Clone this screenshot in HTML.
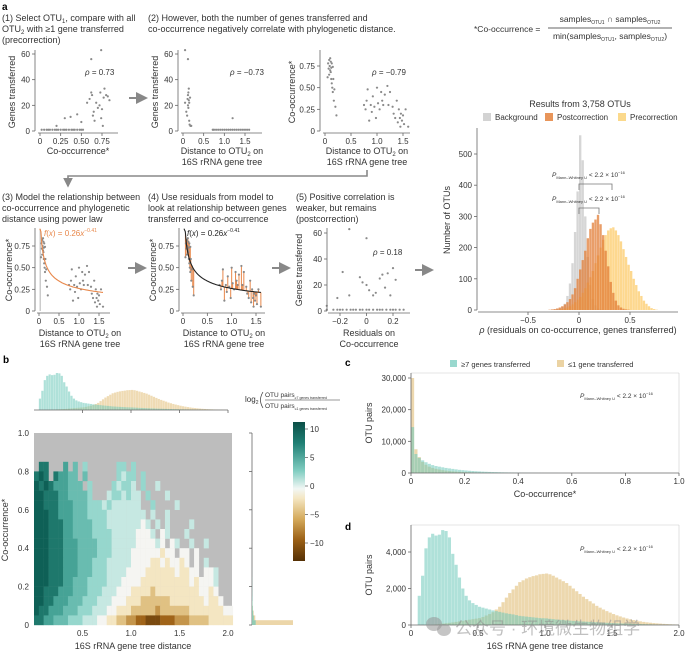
<!DOCTYPE html>
<html><head><meta charset="utf-8"><style>
html,body{margin:0;padding:0;background:#fff;}
svg{display:block;font-family:"Liberation Sans","Noto Sans CJK SC",sans-serif;}
</style></head><body>
<svg id="fig" width="685" height="653" viewBox="0 0 685 653" xmlns="http://www.w3.org/2000/svg">
<defs>
<linearGradient id="cbar" x1="0" y1="0" x2="0" y2="1">
<stop offset="0" stop-color="#0b4f47"/><stop offset="0.15" stop-color="#1f7f74"/><stop offset="0.35" stop-color="#80cdc1"/><stop offset="0.48" stop-color="#f2f7f5"/><stop offset="0.55" stop-color="#f4e6c2"/><stop offset="0.7" stop-color="#d4a95a"/><stop offset="0.85" stop-color="#9a5f15"/><stop offset="1" stop-color="#543005"/>
</linearGradient>
<marker id="arr" markerWidth="6" markerHeight="6" refX="5" refY="3" orient="auto"><path d="M0,0 L6,3 L0,6 z" fill="#888"/></marker>
</defs>
</svg>
<script>
// ---------- DATA ----------
const p1x=[0.02,0.05,0.08,0.1,0.12,0.15,0.18,0.2,0.22,0.25,0.28,0.3,0.32,0.35,0.38,0.4,0.42,0.45,0.48,0.5,0.52,0.2,0.3,0.37,0.45,0.5,0.57,0.6,0.62,0.63,0.64,0.65,0.66,0.68,0.7,0.72,0.73,0.74,0.75,0.76,0.77,0.78,0.8,0.82,0.84,0.62,0.74];
const p1y=[1,1,1,1,1,1,1,1,1,1,1,1,1,1,1,1,1,1,1,1,1,4,10,11,13,7,22,25,30,28,12,15,8,22,18,20,30,10,17,4,26,33,28,27,24,56,63];
const p2x=[0.05,0.08,0.1,0.11,0.12,0.12,0.13,0.13,0.14,0.14,0.15,0.15,0.16,0.17,0.18,0.2,0.05,0.12,0.72,0.75,0.8,0.85,0.9,0.95,1.0,1.05,1.1,1.15,1.2,1.25,1.3,1.35,1.4,1.45,1.5,1.55,1.6,1.2];
const p2y=[22,15,12,25,20,28,18,30,24,33,8,22,5,26,4,4,63,56,1,1,1,1,1,1,1,1,1,1,1,1,1,1,1,1,1,1,1,10];
const distX=[0.05,0.06,0.07,0.08,0.08,0.09,0.1,0.1,0.11,0.11,0.12,0.12,0.13,0.13,0.14,0.15,0.15,0.16,0.17,0.18,0.2,0.22,0.75,0.78,0.8,0.82,0.85,0.88,0.9,0.92,0.95,0.98,1.0,1.02,1.05,1.08,1.1,1.12,1.15,1.2,1.22,1.25,1.3,1.32,1.35,1.38,1.4,1.42,1.44,1.45,1.46,1.48,1.5,1.52,1.55,1.6];
const coocY=[0.62,0.78,0.72,0.82,0.65,0.75,0.7,0.84,0.68,0.8,0.6,0.73,0.55,0.78,0.5,0.45,0.74,0.6,0.35,0.48,0.28,0.18,0.3,0.25,0.35,0.48,0.12,0.3,0.22,0.4,0.28,0.15,0.5,0.32,0.25,0.45,0.35,0.3,0.42,0.52,0.3,0.45,0.28,0.2,0.15,0.35,0.1,0.25,0.15,0.05,0.2,0.12,0.18,0.08,0.25,0.05];
const p6x=[-0.3,-0.25,-0.22,-0.2,-0.18,-0.15,-0.12,-0.1,-0.08,-0.05,-0.03,0,0.02,0.05,0.08,0.1,0.12,0.15,0.18,0.2,0.22,0.25,0.28,-0.3,-0.22,-0.18,-0.13,-0.05,-0.03,0,0.02,0.05,0.07,0.1,0.12,0.14,0.16,0.18,0.2,0.22,-0.13,0.0];
const p6y=[1,1,1,1,1,1,1,1,1,1,1,1,1,1,1,1,1,1,1,1,1,1,1,4,10,30,12,26,22,20,16,12,14,25,28,18,29,12,33,24,63,56];
const fitA=0.26, fitB=-0.41;
const rhoBins0=-0.4, rhoBinW=0.025;
const bgCounts=[0,0,0,0,0,0,2,3,5,10,20,45,85,150,250,380,560,480,300,170,80,35,15,5,2];
const postCounts=[0,0,0,0,1,2,3,5,8,12,18,25,35,50,70,100,130,160,190,230,260,280,290,305,275,240,190,140,90,55,30,15,8,4,2,1];
const preCounts=[0,0,0,0,0,0,0,0,2,3,5,8,12,18,25,33,42,55,70,88,105,125,150,175,200,225,240,255,262,265,255,240,220,195,170,145,125,100,80,60,45,30,20,12,6,3,1];
const distTeal=[0,0,1600,2700,4200,4800,5000,4900,4950,5200,5150,4800,3900,3300,2600,2000,1600,1350,1200,1100,1000,950,900,850,800,760,720,680,640,610,580,540,500,480,460,440,420,400,380,370,360,340,320,300,285,270,255,240,228,215,200,190,180,170,160,150,140,130,120,110,100,95,90,80,75,70,60,55,50,45,40,35,30,25,20,18,15,12,10,8];
const distTan=[0,0,0,0,0,0,20,40,60,80,100,120,140,170,200,230,260,290,320,350,380,440,520,600,700,850,1000,1250,1500,1750,1950,2150,2350,2450,2550,2620,2680,2720,2780,2800,2820,2780,2700,2600,2500,2400,2300,2150,2000,1850,1700,1550,1420,1300,1180,1050,950,850,760,680,600,530,470,410,360,310,270,235,200,170,145,125,105,90,75,62,50,40,32,25];
const coTan=[30000,7500,5000,3500,2600,2000,1600,1300,1100,900,750,620,520,440,370,310,260,220,190,160,130,110,90,75,60,50,40,30,25,20,15,12,10,8,6,5,4,3,2,1];
const coTeal=[14500,6000,4800,4000,3400,2900,2500,2200,2000,1800,1600,1450,1300,1150,1000,900,800,700,620,550,490,430,380,340,300,270,240,210,190,170,150,130,110,95,80,70,60,50,40,35,30,25,20,15,10,5];
const margTeal=[60,30,18,12,8,6,4,3,2,2,1,1];
const margTan=[100,8,4,2,1];
const heatLevels={A:12,B:10,C:8,D:6,E:4,F:2,G:0,H:-2,I:-4,J:-6,K:-8,L:-10};
const heatRows=[
".........................................",
".........................................",
".........................................",
".BB...C.D.E......EE.E",
"BAB.BCCDD.D......EFEE.E",
"ABABCCCDDD.E....EFEEF.E..F",
"AABBBCCDDDDE...FEEFEFF.E...F",
"AABBBCCCDDDEEEFEFFFFFF..E....F",
"AAABBCCCDDDEEEEFFFFFFFF.F..F",
"AAABBBCCDDDDEEEFFFFFFFGF.F.F....F",
"AAABBBCCDDDDEEEEFFFFFGGGF.GF...F",
"AAABBBCCCDDDDEEEFFFFFGGGGFG.GF..F..F",
"AAABBBCCCDDDDEEEFFFFGGGGGGHGG.GG.G",
"AAABBBCCCDDDEEEFFFFFGGGGHHGHGGHG.G.F",
"AAABBBCCCDDDEEEFFFFGGGGHHHHHHGHHGG.GGF",
"AAABBBCCDDDEEEEFFFGGGGHHHHHHHHHHGHGGGF",
"AABBBCCCDDDEEEFFFGGGHHHHIHHHHHHHHHGGHG",
"AABBCCCDDDEEEFFFGGGHHHIIIIIIHHHHHHHGHHG",
"ABBCCCDDDEEEFFFGGHHHIIIIIJIIIIIIHHHHHHHGG",
"BBCCDDDEEEFFFGGHHIIJJKKLLLKKKJJJIIIIHHHHH"];

// ---------- HELPERS ----------
const NS='http://www.w3.org/2000/svg';
const svg=document.getElementById('fig');
function el(tag,attrs,parent){const e=document.createElementNS(NS,tag);for(const k in attrs)e.setAttribute(k,attrs[k]);(parent||svg).appendChild(e);return e;}
function txt(x,y,s,size,name,opts){const t=el('text',Object.assign({x:x,y:y,'font-size':size,fill:'#333'},opts||{}));t.innerHTML=s;


return t;}
function ln(x1,y1,x2,y2,name,stroke,w){const l=el('line',{x1:x1,y1:y1,x2:x2,y2:y2,stroke:stroke||'#666','stroke-width':w||0.8});


return l;}
function scale(d0,d1,r0,r1){return v=>r0+(v-d0)*(r1-r0)/(d1-d0);}
function xAxis(sx,y,xa,xb,ticks,labels,size,name){ln(xa,y,xb,y,name+'-line');ticks.forEach((t,i)=>{ln(sx(t),y,sx(t),y+3,name+'-tick');txt(sx(t),y+11,labels[i],size||8,name+'-label',{'text-anchor':'middle'});});}
function yAxis(sy,x,ya,yb,ticks,labels,size,name){ln(x,ya,x,yb,name+'-line');ticks.forEach((t,i)=>{ln(x-3,sy(t),x,sy(t),name+'-tick');txt(x-5,sy(t)+3,labels[i],size||8,name+'-label',{'text-anchor':'end'});});}
function scatter(sx,sy,xs,ys,name){const n=Math.min(xs.length,ys.length);for(let i=0;i<n;i++){const c=el('circle',{cx:sx(xs[i]),cy:sy(ys[i]),r:1.1,fill:'#8a8a8a'});

}}
function vlabel(x,y,s,name){txt(x,y,s,9,name,{'text-anchor':'middle',transform:'rotate(-90 '+x+' '+y+')'});}
function hist(arr,b0,bw,sx,sy,fill,name){arr.forEach((v,i)=>{if(!v)return;const x0=sx(b0+i*bw),x1=sx(b0+(i+1)*bw);const r=el('rect',{x:x0,y:sy(v),width:Math.max(0.5,x1-x0-0.2),height:sy(0)-sy(v),fill:fill});

});}

// ---------- PANEL A ----------
txt(2,10,'a',10,'panel-a-letter',{'font-weight':'bold',fill:'#000'});
txt(2,21,'(1) Select OTU<tspan font-size="6" dy="2">1</tspan><tspan dy="-2">, compare with all</tspan>',9,'step1-title');
txt(2,32,'OTU<tspan font-size="6" dy="2">2</tspan><tspan dy="-2"> with ≥1 gene transferred</tspan>',9,'step1-title');
txt(2,43,'(precorrection)',9,'step1-title');
txt(148,21,'(2) However, both the number of genes transferred and',9,'step2-title');
txt(148,32,'co-occurrence negatively correlate with phylogenetic distance.',9,'step2-title');
{const sx=scale(0,0.75,40,102),sy=scale(0,60,131,54);
scatter(sx,sy,p1x,p1y,'point-p1');
xAxis(sx,133,38,118,[0,0.25,0.5,0.75],['0','0.25','0.50','0.75'],8,'p1-x-axis');
yAxis(sy,35,50,131,[0,20,40,60],['0','20','40','60'],8,'p1-y-axis');
vlabel(15,92,'Genes transferred','p1-y-title');
txt(78,154,'Co-occurrence*',9,'p1-x-title',{'text-anchor':'middle'});
txt(85,75,'<tspan font-style="italic">ρ</tspan> = 0.73',8,'p1-rho');}
{const a=el('line',{x1:129,y1:98,x2:146,y2:98,stroke:'#888','stroke-width':2,'marker-end':'url(#arr)'});

}
{const sx=scale(0,1.5,183,245),sy=scale(0,60,131,54);
scatter(sx,sy,p2x,p2y,'point-p2');
xAxis(sx,133,181,262,[0,0.5,1,1.5],['0','0.5','1.0','1.5'],8,'p2-x-axis');
yAxis(sy,178,50,131,[0,20,40,60],['0','20','40','60'],8,'p2-y-axis');
vlabel(158,92,'Genes transferred','p2-y-title');
txt(222,154,'Distance to OTU<tspan font-size="6" dy="2">2</tspan><tspan dy="-2"> on</tspan>',9,'p2-x-title',{'text-anchor':'middle'});
txt(222,165,'16S rRNA gene tree',9,'p2-x-title',{'text-anchor':'middle'});
txt(230,75,'<tspan font-style="italic">ρ</tspan> = −0.73',8,'p2-rho');}
{const sx=scale(0,1.5,325,403),sy=scale(0,0.75,131,66);
scatter(sx,sy,distX,coocY,'point-p3');
xAxis(sx,133,323,410,[0,0.5,1,1.5],['0','0.5','1.0','1.5'],8,'p3-x-axis');
yAxis(sy,320,50,131,[0,0.25,0.5,0.75],['0','0.25','0.50','0.75'],8,'p3-y-axis');
vlabel(295,92,'Co-occurrence*','p3-y-title');
txt(367,154,'Distance to OTU<tspan font-size="6" dy="2">2</tspan><tspan dy="-2"> on</tspan>',9,'p3-x-title',{'text-anchor':'middle'});
txt(367,165,'16S rRNA gene tree',9,'p3-x-title',{'text-anchor':'middle'});
txt(372,75,'<tspan font-style="italic">ρ</tspan> = −0.79',8,'p3-rho');}
{const p=el('path',{d:'M367,170 L367,176 L68,176 L68,186',fill:'none',stroke:'#888','stroke-width':1.6,'marker-end':'url(#arr)'});

}
txt(2,200,'(3) Model the relationship between',9,'step3-title');
txt(2,211,'co-occurrence and phylogenetic',9,'step3-title');
txt(2,222,'distance using power law',9,'step3-title');
txt(148,200,'(4) Use residuals from model to',9,'step4-title');
txt(148,211,'look at relationship between genes',9,'step4-title');
txt(148,222,'transferred and co-occurrence',9,'step4-title');
txt(296,200,'(5) Positive correlation is',9,'step5-title');
txt(296,211,'weaker, but remains',9,'step5-title');
txt(296,222,'(postcorrection)',9,'step5-title');
function fitPath(sx,sy,xa,xb){let d='';for(let i=0;i<=60;i++){const x=xa+(xb-xa)*i/60;const y=Math.min(0.95,fitA*Math.pow(x,fitB));d+=(i?'L':'M')+sx(x).toFixed(1)+','+sy(y).toFixed(1);}return d;}
{const sx=scale(0,1.5,39,99),sy=scale(0,0.75,311,246);
const g=el('rect',{x:39.5,y:229,width:1.5,height:82,fill:'#ccc'});


scatter(sx,sy,distX,coocY,'point-p4');
const c=el('path',{d:fitPath(sx,sy,0.02,1.6),fill:'none',stroke:'#e8874a','stroke-width':1.1});


xAxis(sx,313,37,110,[0,0.5,1,1.5],['0','0.5','1.0','1.5'],8,'p4-x-axis');
yAxis(sy,35,228,311,[0,0.25,0.5,0.75],['0','0.25','0.50','0.75'],8,'p4-y-axis');
vlabel(12,270,'Co-occurrence*','p4-y-title');
txt(80,336,'Distance to OTU<tspan font-size="6" dy="2">2</tspan><tspan dy="-2"> on</tspan>',9,'p4-x-title',{'text-anchor':'middle'});
txt(80,347,'16S rRNA gene tree',9,'p4-x-title',{'text-anchor':'middle'});
txt(44,236,'<tspan font-style="italic">f</tspan>(<tspan font-style="italic">x</tspan>) = 0.26<tspan font-style="italic">x</tspan><tspan font-size="5" dy="-4">−0.41</tspan>',8,'p4-fit-label',{fill:'#e8874a'});}
{const sx=scale(0,1.5,183,256),sy=scale(0,0.75,311,246);
const n=Math.min(distX.length,coocY.length);
for(let i=0;i<n;i++){const f=Math.min(0.95,fitA*Math.pow(distX[i],fitB));ln(sx(distX[i]),sy(coocY[i]),sx(distX[i]),sy(f),'residual-line','#e8874a',1);}
scatter(sx,sy,distX,coocY,'point-p5');
const c=el('path',{d:fitPath(sx,sy,0.02,1.6),fill:'none',stroke:'#222','stroke-width':1.1});


xAxis(sx,313,181,265,[0,0.5,1,1.5],['0','0.5','1.0','1.5'],8,'p5-x-axis');
yAxis(sy,179,228,311,[0,0.25,0.5,0.75],['0','0.25','0.50','0.75'],8,'p5-y-axis');
vlabel(156,270,'Co-occurrence*','p5-y-title');
txt(224,336,'Distance to OTU<tspan font-size="6" dy="2">2</tspan><tspan dy="-2"> on</tspan>',9,'p5-x-title',{'text-anchor':'middle'});
txt(224,347,'16S rRNA gene tree',9,'p5-x-title',{'text-anchor':'middle'});
txt(187,236,'<tspan font-style="italic">f</tspan>(<tspan font-style="italic">x</tspan>) = 0.26<tspan font-style="italic">x</tspan><tspan font-size="5" dy="-4">−0.41</tspan>',8,'p5-fit-label',{fill:'#222'});}
{const sx=scale(-0.2,0.2,340,393),sy=scale(0,60,311,233);
scatter(sx,sy,p6x,p6y,'point-p6');
xAxis(sx,313,328,410,[-0.2,0,0.2],['−0.2','0','0.2'],8,'p6-x-axis');
yAxis(sy,327,228,311,[0,20,40,60],['0','20','40','60'],8,'p6-y-axis');
vlabel(302,270,'Genes transferred','p6-y-title');
txt(369,336,'Residuals on',9,'p6-x-title',{'text-anchor':'middle'});
txt(369,347,'Co-occurrence',9,'p6-x-title',{'text-anchor':'middle'});
txt(373,255,'<tspan font-style="italic">ρ</tspan> = 0.18',8,'p6-rho');}
[[128,268,145,268],[272,268,289,268],[415,270,432,270]].forEach(a=>{const l=el('line',{x1:a[0],y1:a[1],x2:a[2],y2:a[3],stroke:'#888','stroke-width':2,'marker-end':'url(#arr)'});

});
txt(474,32,'*Co-occurrence =',8.5,'formula-lhs');
ln(548,28,672,28,'formula-bar','#333',0.7);
txt(610,22,'samples<tspan font-size="5" dy="2">OTU1</tspan><tspan dy="-2"> ∩ samples</tspan><tspan font-size="5" dy="2">OTU2</tspan>',8.5,'formula-numerator',{'text-anchor':'middle'});
txt(610,39,'min(samples<tspan font-size="5" dy="2">OTU1</tspan><tspan dy="-2">, samples</tspan><tspan font-size="5" dy="2">OTU2</tspan><tspan dy="-2">)</tspan>',8.5,'formula-denominator',{'text-anchor':'middle'});
{const sx=scale(0,0.5,579,630),sy=scale(0,500,310,154);
txt(580,107,'Results from 3,758 OTUs',9,'hist-title',{'text-anchor':'middle'});
[[483,'#d3d3d3','Background'],[545,'#e8955a','Postcorrection'],[618,'#fbd98c','Precorrection']].forEach(l=>{const r=el('rect',{x:l[0],y:113,width:8,height:8,fill:l[1]});


txt(l[0]+12,120,l[2],8,'legend-label');});
hist(bgCounts,rhoBins0,rhoBinW,sx,sy,'rgba(200,200,200,0.75)','bar-background');
hist(preCounts,rhoBins0,rhoBinW,sx,sy,'rgba(252,200,95,0.7)','bar-precorrection');
hist(postCounts,rhoBins0,rhoBinW,sx,sy,'rgba(225,125,55,0.75)','bar-postcorrection');
xAxis(sx,312,478,678,[-0.5,0,0.5],['−0.5','0','0.5'],8,'hist-x-axis');
yAxis(sy,477,128,310,[0,100,200,300,400,500],['0','100','200','300','400','500'],8,'hist-y-axis');
vlabel(450,220,'Number of OTUs','hist-y-title');
txt(578,333,'<tspan font-style="italic">ρ</tspan> (residuals on co-occurrence, genes transferred)',9,'hist-x-title',{'text-anchor':'middle'});
const br1=el('path',{d:'M579,190 L579,184 L612,184 L612,190',fill:'none',stroke:'#777','stroke-width':0.8});


const br2=el('path',{d:'M579,214 L579,208 L599,208 L599,214',fill:'none',stroke:'#777','stroke-width':0.8});


txt(552,177,'<tspan font-style="italic">P</tspan><tspan font-size="4" dy="2">Mann–Whitney U</tspan><tspan dy="-2"> &lt; 2.2 × 10</tspan><tspan font-size="4" dy="-3">−16</tspan>',6.5,'pvalue-label-pre');
txt(552,201,'<tspan font-style="italic">P</tspan><tspan font-size="4" dy="2">Mann–Whitney U</tspan><tspan dy="-2"> &lt; 2.2 × 10</tspan><tspan font-size="4" dy="-3">−16</tspan>',6.5,'pvalue-label-post');}

// ---------- PANEL B ----------
txt(3,363,'b',10,'panel-b-letter',{'font-weight':'bold',fill:'#000'});
function heatColor(v){const stops=[[12,[14,96,86]],[10,[30,120,108]],[8,[70,163,150]],[6,[105,188,176]],[4,[150,215,205]],[1,[222,241,237]],[0,[245,245,242]],[-2,[244,230,194]],[-5,[214,174,100]],[-8,[160,100,25]],[-12,[84,48,5]]];
for(let i=0;i<stops.length-1;i++){const a=stops[i],b=stops[i+1];if(v<=a[0]&&v>=b[0]){const t=(a[0]-v)/(a[0]-b[0]);return 'rgb('+a[1].map((c,k)=>Math.round(c+(b[1][k]-c)*t)).join(',')+')';}}return 'rgb(84,48,5)';}
{const sx=scale(0,1,34,131),sy=scale(0,1,625,433);
const bg=el('rect',{x:34,y:433,width:198,height:192,fill:'#bdbdbd'});


heatRows.forEach((row,ri)=>{const y0=0.95-ri*0.05;for(let ci=0;ci<row.length;ci++){const ch=row[ci];if(!(ch in heatLevels))continue;const x0=ci*0.05;const r=el('rect',{x:sx(x0),y:sy(y0+0.05),width:sx(x0+0.05)-sx(x0)+0.2,height:sy(y0)-sy(y0+0.05)+0.2,fill:heatColor(heatLevels[ch])});

}});
[0.5,1,1.5,2].forEach(t=>{txt(sx(t),636,t.toFixed(1),8,'heatmap-x-label',{'text-anchor':'middle'});});
[0,0.2,0.4,0.6,0.8,1].forEach(t=>{txt(29,sy(t)+3,t===0?'0':t.toFixed(1),8,'heatmap-y-label',{'text-anchor':'end'});});
txt(133,649,'16S rRNA gene tree distance',9,'heatmap-x-title',{'text-anchor':'middle'});
vlabel(8,530,'Co-occurrence*','heatmap-y-title');
const my=scale(0,5200,410,373);
hist(distTan,0,0.025,sx,my,'rgba(230,200,140,0.65)','marginal-top-tan');
hist(distTeal,0,0.025,sx,my,'rgba(110,200,185,0.55)','marginal-top-teal');
ln(34,410,228,410,'marginal-top-axis');
[0.5,1,1.5,2].forEach(t=>ln(sx(t),410,sx(t),413,'marginal-top-tick'));
const mx=scale(0,100,252,293);
ln(252,433,252,625,'marginal-right-axis');
[0,0.2,0.4,0.6,0.8,1].forEach(t=>ln(249,sy(t),252,sy(t),'marginal-right-tick'));
margTan.forEach((v,i)=>{const r=el('rect',{x:252,y:sy((i+1)*0.025),width:mx(v)-252,height:sy(i*0.025)-sy((i+1)*0.025),fill:'rgba(230,200,140,0.75)'});

});
margTeal.forEach((v,i)=>{const r=el('rect',{x:252,y:sy((i+1)*0.025),width:(mx(v)-252)*0.15,height:sy(i*0.025)-sy((i+1)*0.025),fill:'rgba(110,200,185,0.7)'});

});}
{const cb=el('rect',{x:293,y:422,width:12,height:139,fill:'url(#cbar)'});


const cs=scale(0,10,486,429);
[[10,'10'],[5,'5'],[0,'0'],[-5,'−5'],[-10,'−10']].forEach(t=>{ln(305,cs(t[0]),308,cs(t[0]),'colorbar-tick');txt(310,cs(t[0])+3,t[1],8,'colorbar-label');});
txt(245,402,'log<tspan font-size="5" dy="2">2</tspan>',8,'colorbar-title');
const pl=el('path',{d:'M263,392 Q258,400 263,408',fill:'none',stroke:'#333','stroke-width':0.7});


txt(265,397,'OTU pairs<tspan font-size="3.5" dy="2">≥7 genes transferred</tspan>',6.5,'colorbar-numerator');
ln(265,400,340,400,'colorbar-frac-bar','#333',0.5);
txt(265,408,'OTU pairs<tspan font-size="3.5" dy="2">≤1 genes transferred</tspan>',6.5,'colorbar-denominator');}

// ---------- PANEL C ----------
txt(345,366,'c',10,'panel-c-letter',{'font-weight':'bold',fill:'#000'});
[[450,'rgba(110,200,185,0.7)','≥7 genes transferred'],[557,'rgba(230,200,140,0.8)','≤1 gene transferred']].forEach(l=>{const r=el('rect',{x:l[0],y:360,width:7,height:7,fill:l[1]});


txt(l[0]+11,367,l[2],7.5,'legend-label-c');});
{const sx=scale(0,1,411,679),sy=scale(0,30000,473,378);
hist(coTan,0,0.0125,sx,sy,'rgba(230,200,140,0.7)','bar-c-tan');
hist(coTeal,0,0.0125,sx,sy,'rgba(110,200,185,0.55)','bar-c-teal');
ln(411,373,679,373,'c-top-spine','#ccc',0.6);ln(679,373,679,473,'c-right-spine','#ccc',0.6);
xAxis(sx,473,411,679,[0,0.2,0.4,0.6,0.8,1],['0','0.2','0.4','0.6','0.8','1.0'],8,'c-x-axis');
yAxis(sy,411,373,473,[0,10000,20000,30000],['0','10,000','20,000','30,000'],8,'c-y-axis');
vlabel(372,423,'OTU pairs','c-y-title');
txt(545,497,'Co-occurrence*',9,'c-x-title',{'text-anchor':'middle'});
txt(580,398,'<tspan font-style="italic">P</tspan><tspan font-size="4" dy="2">Mann–Whitney U</tspan><tspan dy="-2"> &lt; 2.2 × 10</tspan><tspan font-size="4" dy="-3">−16</tspan>',6.5,'c-pvalue');}
// ---------- PANEL D ----------
txt(345,530,'d',10,'panel-d-letter',{'font-weight':'bold',fill:'#000'});
{const sx=scale(0,2,411,679),sy=scale(0,4000,625,552);
hist(distTan,0,0.025,sx,sy,'rgba(230,200,140,0.7)','bar-d-tan');
hist(distTeal,0,0.025,sx,sy,'rgba(110,200,185,0.55)','bar-d-teal');
ln(411,525,679,525,'d-top-spine','#ccc',0.6);ln(679,525,679,625,'d-right-spine','#ccc',0.6);
xAxis(sx,625,411,679,[0,0.5,1,1.5,2],['0','0.5','1.0','1.5','2.0'],8,'d-x-axis');
yAxis(sy,411,525,625,[0,2000,4000],['0','2,000','4,000'],8,'d-y-axis');
vlabel(372,575,'OTU pairs','d-y-title');
txt(545,649,'16S rRNA gene tree distance',9,'d-x-title',{'text-anchor':'middle'});
txt(580,551,'<tspan font-style="italic">P</tspan><tspan font-size="4" dy="2">Mann–Whitney U</tspan><tspan dy="-2"> &lt; 2.2 × 10</tspan><tspan font-size="4" dy="-3">−16</tspan>',6.5,'d-pvalue');}
{const c1=el('ellipse',{cx:434,cy:624,rx:8,ry:7,fill:'rgba(150,150,150,0.55)'});


const c2=el('ellipse',{cx:444,cy:630,rx:7,ry:6,fill:'rgba(150,150,150,0.55)'});


txt(455,634,'公众号 · 环境微生物组学',17,'watermark-text',{fill:'rgba(140,140,140,0.55)'});}
</script>
</body></html>
